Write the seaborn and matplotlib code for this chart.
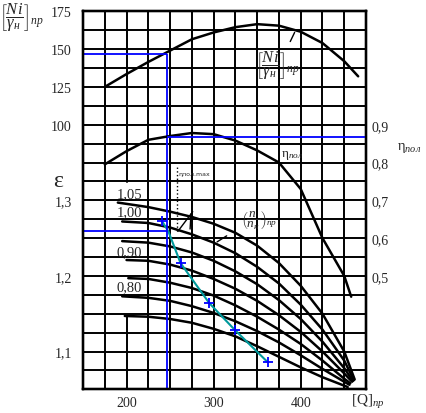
import numpy as np
import matplotlib
matplotlib.use('Agg')
import matplotlib.pyplot as plt
import seaborn as sns

# --- data ---
q_ticks = [200, 300, 400]
eps_ticks = [1.1, 1.2, 1.3]
ni_ticks = [100, 125, 150, 175]
eta_ticks = [0.5, 0.6, 0.7, 0.8, 0.9]

# power curve [Ni/gamma]пр
ni_q = [175, 200, 225, 250, 275, 300, 325, 350, 375, 400, 425, 450, 466]
ni_val = [125, 133.5, 141.5, 149, 156.5, 161, 164.5, 166.5, 165.5, 161.5, 154, 142, 132]

# polytropic efficiency
eta_q = [175, 200, 225, 250, 275, 300, 325, 350, 375, 400, 425, 450, 458]
eta_val = [0.795, 0.83, 0.86, 0.87, 0.878, 0.875, 0.858, 0.832, 0.80, 0.73, 0.60, 0.50, 0.445]

# pressure ratio curves for relative speeds (n/nн)пр
speed_names = ['1,05', '1,00', '0,95', '0,90', '0,85', '0,80', '0,75']
speed_q = [
    [190, 225, 250, 275, 300, 325, 350, 375, 400, 425, 450, 462],
    [195, 225, 250, 275, 300, 325, 350, 375, 400, 425, 450, 461],
    [195, 225, 250, 275, 300, 325, 350, 375, 400, 425, 450, 460],
    [200, 225, 250, 275, 300, 325, 350, 375, 400, 425, 450, 459],
    [202, 225, 250, 275, 300, 325, 350, 375, 400, 425, 450, 457],
    [195, 225, 250, 275, 300, 325, 350, 375, 400, 425, 450, 456],
    [198, 225, 250, 275, 300, 325, 350, 375, 400, 425, 454],
]
speed_eps = [
    [1.297, 1.291, 1.285, 1.278, 1.269, 1.257, 1.240, 1.217, 1.187, 1.150, 1.100, 1.063],
    [1.272, 1.270, 1.264, 1.255, 1.244, 1.230, 1.212, 1.190, 1.162, 1.129, 1.088, 1.062],
    [1.246, 1.244, 1.239, 1.231, 1.220, 1.206, 1.189, 1.168, 1.143, 1.113, 1.078, 1.061],
    [1.221, 1.220, 1.215, 1.207, 1.196, 1.183, 1.167, 1.148, 1.126, 1.100, 1.071, 1.060],
    [1.197, 1.196, 1.191, 1.184, 1.174, 1.161, 1.146, 1.129, 1.110, 1.088, 1.064, 1.058],
    [1.173, 1.171, 1.167, 1.160, 1.151, 1.140, 1.127, 1.112, 1.095, 1.077, 1.060, 1.056],
    [1.147, 1.146, 1.143, 1.138, 1.130, 1.120, 1.107, 1.093, 1.079, 1.066, 1.053],
]
label_speeds = ['1,05', '1,00', '0,90', '0,80']
label_eps = [1.309, 1.285, 1.232, 1.186]

# surge / working line (teal)
surge_q = [241, 248, 262, 295, 324, 362]
surge_eps = [1.272, 1.259, 1.217, 1.164, 1.129, 1.086]

# operating point (blue construction lines)
q_op = 246
ni_op = 147
eta_op = 0.867
eps_op = 1.259

sns.set_style('white')
plt.rcParams['font.family'] = ['Liberation Serif', 'DejaVu Serif']
plt.rcParams['mathtext.fontset'] = 'custom'
plt.rcParams['mathtext.rm'] = 'Liberation Serif'
plt.rcParams['mathtext.it'] = 'Liberation Serif:italic'
plt.rcParams['mathtext.bf'] = 'Liberation Serif:bold'

W, H = 426, 414
fig = plt.figure(figsize=(W / 100, H / 100), dpi=100)
ax = fig.add_axes([83 / W, 1 - 390.3 / H, 283 / W, 378 / H])
ax.set_xlim(150, 475)
ax.set_ylim(1.05, 1.55)
ax_ni = ax.twinx()
ax_ni.set_ylim(-75, 175)
ax_eta = ax.twinx()
ax_eta.set_ylim(0.2, 1.2)

# hand drawn style grid (Q=200 line broken where the speed labels sit)
grid_kw = dict(color='black', lw=1.4, zorder=1)
for q in np.arange(175, 475, 25):
    if q == 200:
        ax.plot([q, q], [1.324, 1.55], **grid_kw)
        ax.plot([q, q], [1.05, 1.147], **grid_kw)
    else:
        ax.axvline(q, **grid_kw)
for e in np.linspace(1.05, 1.55, 21)[1:-1]:
    ax.axhline(e, **grid_kw)

for a in (ax, ax_ni, ax_eta):
    for s in a.spines.values():
        s.set_linewidth(1.6)
        s.set_color('black')

# curves
sns.lineplot(x=ni_q, y=ni_val, ax=ax_ni, color='black', lw=1.8, sort=False, estimator=None)
sns.lineplot(x=eta_q, y=eta_val, ax=ax_eta, color='black', lw=1.8, sort=False, estimator=None)
for q, e in zip(speed_q, speed_eps):
    sns.lineplot(x=q, y=e, ax=ax, color='black', lw=1.8, sort=False, estimator=None, zorder=3)

# blue construction lines
blue = '#0000ff'
ax_ni.hlines(ni_op, 150, q_op, color=blue, lw=1.3)
ax_ni.vlines(q_op, -75, ni_op, color=blue, lw=1.3)
ax_eta.hlines(eta_op, q_op, 475, color=blue, lw=1.3)
ax.hlines(eps_op, 150, q_op + 1.5, color=blue, lw=1.3, zorder=4)

# teal line with blue crosses
sns.lineplot(x=surge_q, y=surge_eps, ax=ax, color='#00999c', lw=1.5, sort=False,
             estimator=None, zorder=5)
mk = [0, 2, 3, 4, 5]
sns.scatterplot(x=[surge_q[i] for i in mk], y=[surge_eps[i] for i in mk], ax=ax,
                marker='+', s=60, color=blue, linewidth=1.3, zorder=6)

# small annotations
ax.plot([258, 258], [eps_op, 1.345], ls=':', color='black', lw=1.0, zorder=4)
ax.text(259, 1.335, 'ηпол.max', fontsize=4.5, va='center', ha='left',
        family=['DejaVu Sans'])
ax.plot([259, 276], [1.259, 1.285], color='black', lw=1.0, zorder=4)
ax.plot([274, 273], [1.282, 1.262], color='black', lw=1.0, zorder=4)
ax.plot([304, 315], [1.245, 1.253], color='black', lw=1.0, zorder=4)
ax_ni.plot([388, 393], [155, 161], color='black', lw=1.0)

# speed labels
for name, ey in zip(label_speeds, label_eps):
    ax.text(203, ey, name, fontsize=10.5, ha='center', va='center', zorder=7)

# ticks
tick_font = 10
ax.set_xticks(q_ticks)
ax.set_xticklabels([str(v) for v in q_ticks], fontsize=tick_font)
ax.set_yticks(eps_ticks)
ax.set_yticklabels([f'{v:.1f}'.replace('.', ',') for v in eps_ticks], fontsize=tick_font)
ax_ni.yaxis.tick_left()
ax_ni.set_yticks(ni_ticks)
ax_ni.set_yticklabels([str(v) for v in ni_ticks], fontsize=tick_font)
ax_eta.set_yticks(eta_ticks)
ax_eta.set_yticklabels([f'{v:.1f}'.replace('.', ',') for v in eta_ticks], fontsize=tick_font)
ax.tick_params(axis='x', length=0, pad=5)
ax.tick_params(axis='y', length=0, pad=8)
ax_ni.tick_params(axis='y', length=0, pad=8)
ax_eta.tick_params(axis='y', length=0, pad=4)
ax.set_xlabel('')
ax.set_ylabel('')

# labels
def ftext(x, y, s, **kw):
    fig.text(x / W, 1 - y / H, s, ha='center', va='center', **kw)

ni_label = r'$\left[\dfrac{Ni}{\gamma_{н}}\right]_{пр}$'
ftext(22, 18, ni_label, fontsize=12)
ftext(278, 66, ni_label, fontsize=12)
ftext(58, 182, 'ε', fontsize=17)
ftext(409, 148, r'$\mathrm{\eta}_{пол}$', fontsize=10.5)
ftext(292, 155, r'$\mathrm{\eta}_{пол}$', fontsize=9.5)
ftext(259, 220, r'$\left(\dfrac{n}{n_{н}}\right)_{пр}$', fontsize=9.5)
ftext(368, 402, r'$\mathrm{[Q]}_{пр}$', fontsize=11)

fig.savefig('out.png', dpi=100)
